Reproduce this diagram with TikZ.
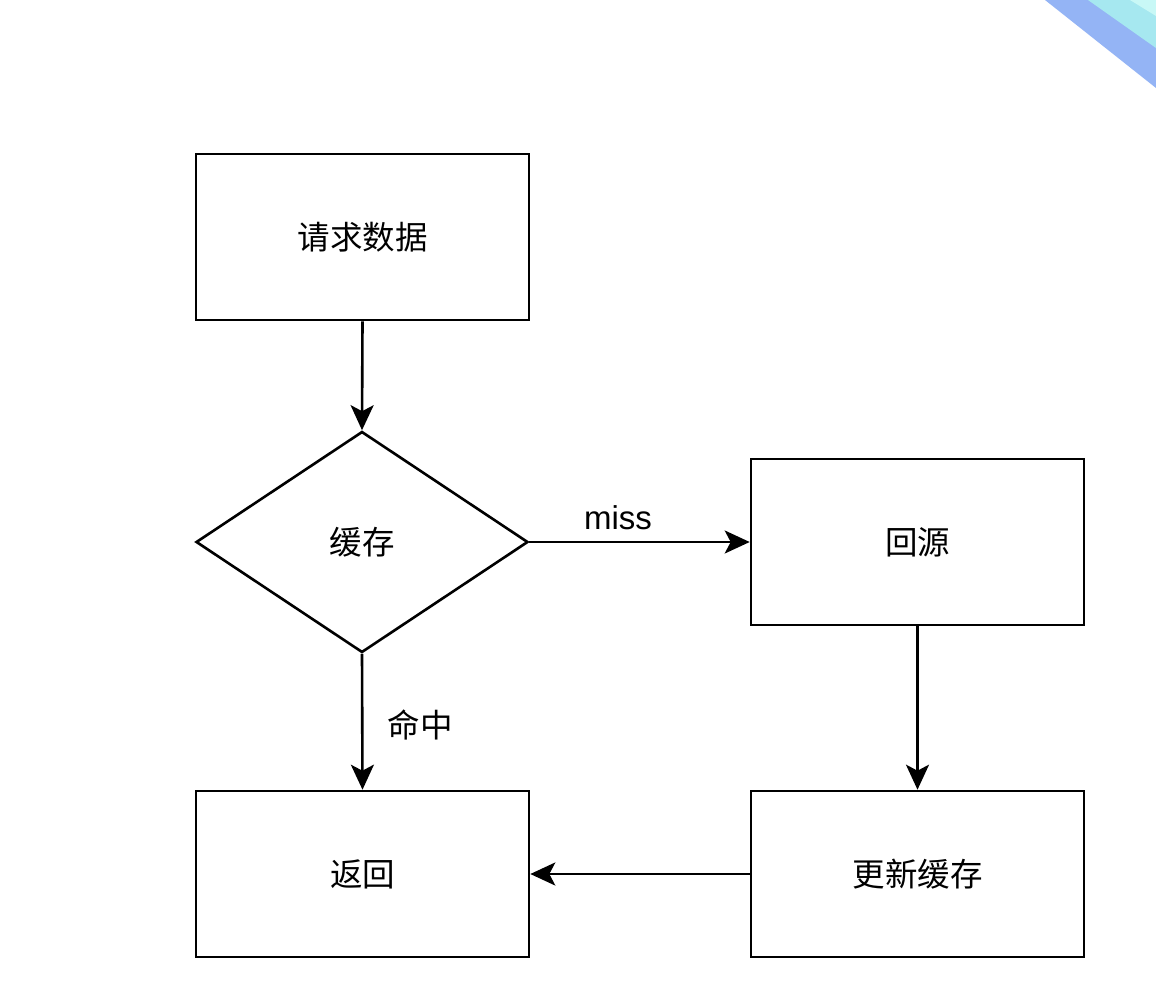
\documentclass[tikz,border=0pt]{standalone}
\usepackage{fontspec}
\setmainfont{Noto Sans CJK SC}
\newfontfamily\latinlbl{Liberation Sans}
\usetikzlibrary{arrows.meta,shapes.geometric}
\begin{document}
\begin{tikzpicture}[x=1pt,y=-1pt,
  box/.style={draw,line width=2.6pt,minimum width=333pt,minimum height=166pt,inner sep=0pt,font=\fontsize{32.5}{38}\selectfont},
  decision/.style={draw,line width=2.6pt,diamond,aspect=1.5,minimum width=332pt,minimum height=221pt,inner sep=0pt,font=\fontsize{32.5}{38}\selectfont},
  flow/.style={line width=2.6pt,-{Stealth[length=25pt,width=23pt,inset=6pt]}},
  lbl/.style={font=\fontsize{32.5}{38}\selectfont}]
\useasboundingbox (0,0) rectangle (1156,1006);
\fill[white] (0,0) rectangle (1156,1006);
% decorative bands in the upper right corner
\fill[fill={rgb,255:red,148;green,180;blue,245}] (1045,0) -- (1156,0) -- (1156,88) -- cycle;
\fill[fill={rgb,255:red,166;green,232;blue,240}] (1088,0) -- (1156,0) -- (1156,48) -- cycle;
\fill[fill={rgb,255:red,200;green,248;blue,246}] (1130,0) -- (1156,0) -- (1156,16) -- cycle;
% nodes
\node[box] (req) at (362.5,237) {请求数据};
\node[decision] (cache) at (362,542) {缓存};
\node[box] (origin) at (917.5,542) {回源};
\node[box] (ret) at (362.5,874) {返回};
\node[box] (update) at (917.5,874) {更新缓存};
% connectors
\draw[flow] (req.south) -- (cache.north);
\draw[flow] (cache.east) -- (origin.west);
\draw[flow] (cache.south) -- (ret.north);
\draw[flow] (origin.south) -- (update.north);
\draw[flow] (update.west) -- (ret.east);
% edge labels
\node[lbl] (lmiss) at (618,518) {\latinlbl\fontsize{33}{38}\selectfont miss};
\node[lbl] (lhit) at (420,725) {命中};
\end{tikzpicture}
\end{document}
